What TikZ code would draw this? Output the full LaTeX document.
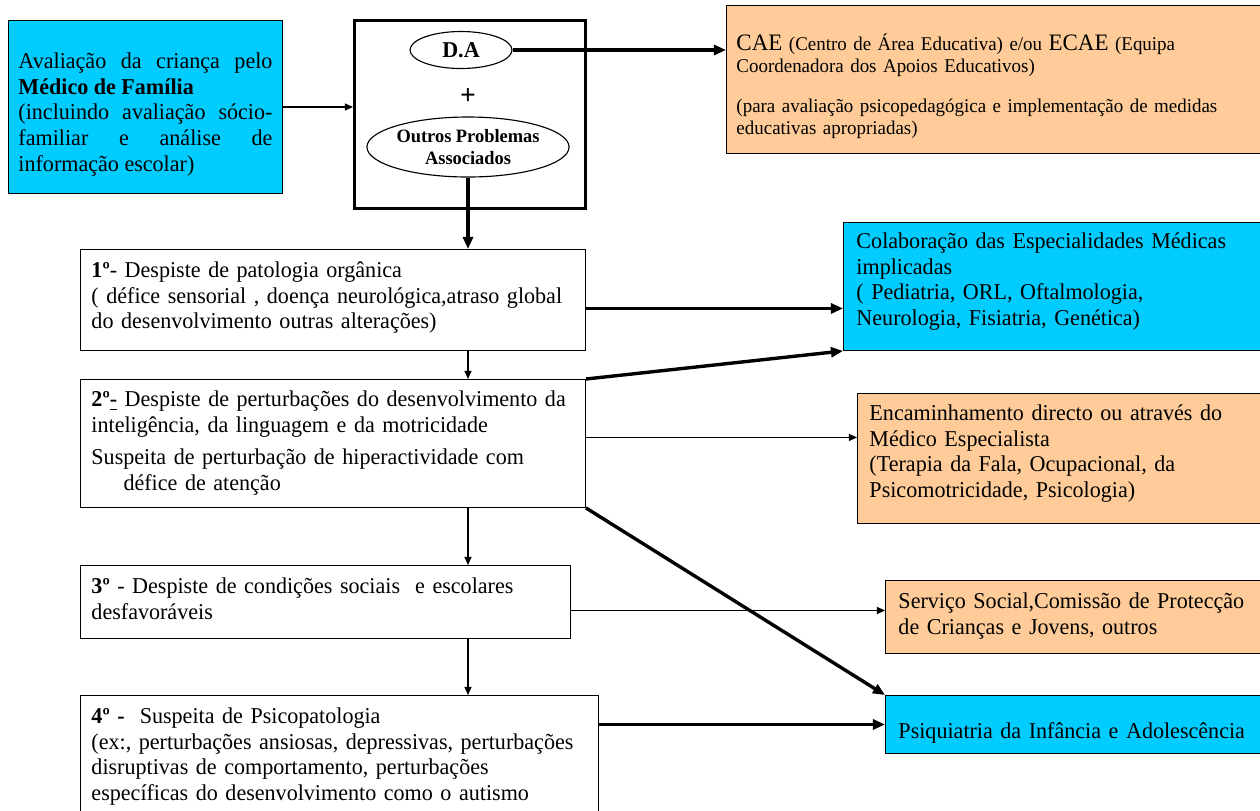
\documentclass[tikz,border=0pt]{standalone}
\usepackage{fontspec}
\setmainfont[FakeStretch=0.975]{Liberation Serif}
\usepackage{xcolor}
\usetikzlibrary{shapes.geometric, arrows.meta}
\definecolor{cyanbox}{HTML}{00CCFF}
\definecolor{peachbox}{HTML}{FFCC99}
\newdimen\pxu
\pxu=0.53pt
\begin{document}
\hyphenpenalty=10000
\exhyphenpenalty=10000
\begin{tikzpicture}[x=\pxu, y=-\pxu,
		main/.style = {draw, line width=0.5pt, anchor=north west, inner ysep=0pt, align=left, font=\fontsize{12}{13.6}\selectfont},
		oval/.style = {draw, ellipse, line width=0.6pt, inner sep=0pt, align=center},
		thin arrow/.style = {line width=0.7pt, -{Triangle[length=4.3pt, width=3.7pt]}},
		thick arrow/.style = {line width=1.8pt, -{Triangle[length=6.4pt, width=5.3pt]}}]
	\useasboundingbox (0,0) rectangle (1260,810);
	\clip (0,0) rectangle (1260,810);
		\node [main, fill=cyanbox, align=justify, text width=254\pxu, inner xsep=10\pxu, text height=48\pxu, text depth=125\pxu] (0) at (8,20) {Avaliação da criança pelo\linebreak \textbf{Médico de Família}\newline (incluindo avaliação sócio-\linebreak familiar e análise de\linebreak informação escolar)};
		\node [draw, line width=1.5pt, anchor=north west, minimum width=231\pxu, minimum height=188\pxu] (1) at (353,19) {};
		\node [oval, minimum width=102\pxu, minimum height=37\pxu, font=\bfseries\fontsize{12}{13}\selectfont] (2) at (461,50) {D.A};
		\node [font=\bfseries\fontsize{15}{16}\selectfont, inner sep=0pt] (3) at (468,96) {+};
		\node [oval, minimum width=202\pxu, minimum height=60\pxu, font=\bfseries\fontsize{10}{11.7}\selectfont] (4) at (468,147) {Outros Problemas\\Associados};
		\node [main, fill=peachbox, text width=519\pxu, inner xsep=10\pxu, text height=45\pxu, text depth=103\pxu, font=\fontsize{10.3}{11.7}\selectfont] (5) at (726,5) {{\fontsize{12.5}{11.7}\selectfont CAE} (Centro de Área Educativa) e/ou {\fontsize{12.5}{11.7}\selectfont ECAE} (Equipa\newline Coordenadora dos Apoios Educativos)\par\vspace{9.5pt}(para avaliação psicopedagógica e implementação de medidas\newline educativas apropriadas)};
		\node [main, text width=483\pxu, inner xsep=11\pxu, text height=28\pxu, text depth=73\pxu] (6) at (80,249) {\textbf{1º}- Despiste de patologia orgânica\newline ( défice sensorial , doença neurológica,atraso global\newline do desenvolvimento outras alterações)};
		\node [main, fill=cyanbox, text width=420\pxu, inner xsep=13\pxu, text height=26\pxu, text depth=102\pxu] (7) at (843,222) {Colaboração das Especialidades Médicas\newline implicadas\newline ( Pediatria, ORL, Oftalmologia,\newline Neurologia, Fisiatria, Genética)};
		\node [main, text width=483\pxu, inner xsep=11\pxu, text height=27\pxu, text depth=101\pxu] (8) at (80,379) {\textbf{2º\underline{-}} Despiste de perturbações do desenvolvimento da\newline inteligência, da linguagem e da motricidade\par\vspace{3.7pt}Suspeita de perturbação de hiperactividade com\newline\hspace*{17pt}défice de atenção};
		\node [main, fill=peachbox, text width=410\pxu, inner xsep=12\pxu, text height=27\pxu, text depth=103\pxu] (9) at (857,393) {Encaminhamento directo ou através do\newline Médico Especialista\newline (Terapia da Fala, Ocupacional, da\newline Psicomotricidade, Psicologia)};
		\node [main, text width=468\pxu, inner xsep=11\pxu, text height=28\pxu, text depth=45\pxu] (10) at (80,565) {\textbf{3º} - Despiste de condições sociais\ \ e escolares\newline desfavoráveis};
		\node [main, fill=peachbox, text width=400\pxu, inner xsep=13\pxu, text height=28\pxu, text depth=45\pxu] (11) at (885,580) {Serviço Social,Comissão de Protecção\newline de Crianças e Jovens, outros};
		\node [main, text width=496\pxu, inner xsep=11\pxu, text height=28\pxu, text depth=102\pxu] (12) at (80,695) {\textbf{4º -}\ \ Suspeita de Psicopatologia\newline (ex:, perturbações ansiosas, depressivas, perturbações\newline disruptivas de comportamento, perturbações\newline específicas do desenvolvimento como o autismo};
		\node [main, fill=cyanbox, text width=400\pxu, inner xsep=13\pxu, text height=43\pxu, text depth=15\pxu] (13) at (885,695) {Psiquiatria da Infância e Adolescência};
	% arrows
		\draw [thin arrow] (0.east) to (0.east -| 1.west);
		\draw [thick arrow] (2.east) to (2.east -| 5.west);
		\draw [thick arrow] (4.south) to (4.south |- 6.north);
		\draw [thick arrow] ([yshift=-4.5pt]6.east) to ([yshift=-4.5pt]6.east -| 7.west);
		\draw [thin arrow] (4.south |- 6.south) to (4.south |- 8.north);
		\draw [thick arrow] (8.north east) to (7.south west);
		\draw [thin arrow] ([yshift=3.2pt]8.east) to ([yshift=3.2pt]8.east -| 9.west);
		\draw [thick arrow] (8.south east) to (13.north west);
		\draw [thin arrow] (4.south |- 8.south) to (4.south |- 10.north);
		\draw [thin arrow] ([yshift=-4.5pt]10.east) to ([yshift=-4.5pt]10.east -| 11.west);
		\draw [thin arrow] (4.south |- 10.south) to (4.south |- 12.north);
		\draw [thick arrow] (13.west -| 12.east) to (13.west);
\end{tikzpicture}
\end{document}
